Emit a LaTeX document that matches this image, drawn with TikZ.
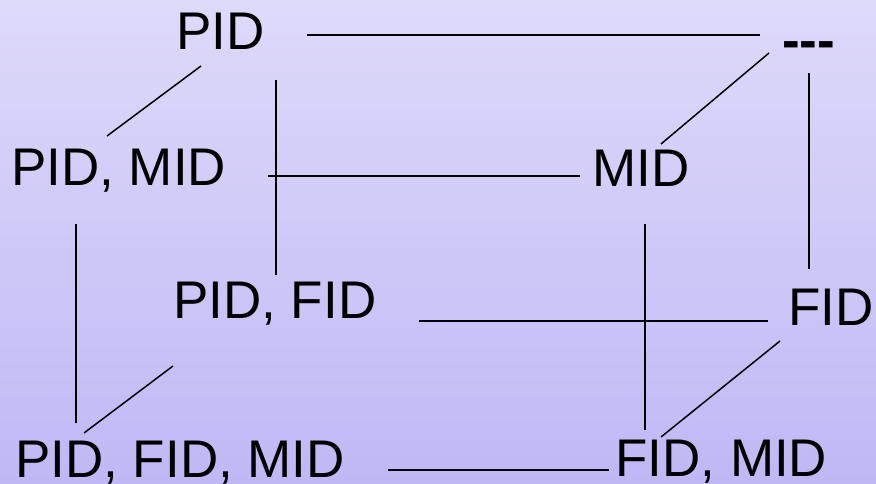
\documentclass[tikz,border=0pt]{standalone}
\usepackage{fontspec}
\setmainfont{Liberation Sans}
\definecolor{bgtop}{RGB}{222,218,250}
\definecolor{bgbot}{RGB}{192,184,245}
\tikzset{
  lbl/.style={anchor=base west,inner sep=0pt,font=\fontsize{53}{60}\selectfont},
  edge/.style={black,line width=1.5pt}
}

\begin{document}
\begin{tikzpicture}[x=1pt,y=-1pt]
\useasboundingbox (0,0) rectangle (876,483);
\shade[top color=bgtop,bottom color=bgbot] (0,0) rectangle (876,483);

\node[lbl] (P) at (176,49) {PID};
\node[lbl,font=\fontsize{53}{60}\selectfont\bfseries] (N) at (782,58) {-\kern0pt-\kern0pt-};
\node[lbl] (PM) at (11,185) {PID, MID};
\node[lbl] (M) at (592,186) {MID};
\node[lbl] (PF) at (173,318) {PID, FID};
\node[lbl] (F) at (788,325) {FID};
\node[lbl] (PFM) at (15,477) {PID, FID, MID};
\node[lbl] (FM) at (615,476) {FID, MID};

% line ends
\coordinate (P-r) at (307,35);
\coordinate (N-l) at (760,35);
\coordinate (P-d) at (201,66);
\coordinate (PM-u) at (107,136);
\coordinate (PF-t) at (276,80);
\coordinate (PF-u) at (276,275);
\coordinate (PM-r) at (268,176);
\coordinate (M-l) at (580,176);
\coordinate (PM-d) at (76,224);
\coordinate (PFM-u) at (76,423);
\coordinate (N-d) at (769,53);
\coordinate (M-u) at (661,144);
\coordinate (N-b) at (809,73);
\coordinate (F-u) at (809,269);
\coordinate (M-d) at (645,224);
\coordinate (FM-u) at (645,430);
\coordinate (PF-r) at (419,321);
\coordinate (F-l) at (768,321);
\coordinate (PF-d) at (173,366);
\coordinate (PFM-r) at (84,433);
\coordinate (F-d) at (780,341);
\coordinate (FM-r) at (661,437);
\coordinate (PFM-e) at (388,470);
\coordinate (FM-l) at (609,470);

\draw[edge] (P-r) -- (N-l);
\draw[edge] (P-d) -- (PM-u);
\draw[edge] (PF-t) -- (PF-u);
\draw[edge] (PM-r) -- (M-l);
\draw[edge] (PM-d) -- (PFM-u);
\draw[edge] (N-d) -- (M-u);
\draw[edge] (N-b) -- (F-u);
\draw[edge] (M-d) -- (FM-u);
\draw[edge] (PF-r) -- (F-l);
\draw[edge] (PF-d) -- (PFM-r);
\draw[edge] (F-d) -- (FM-r);
\draw[edge] (PFM-e) -- (FM-l);

\end{tikzpicture}
\end{document}
